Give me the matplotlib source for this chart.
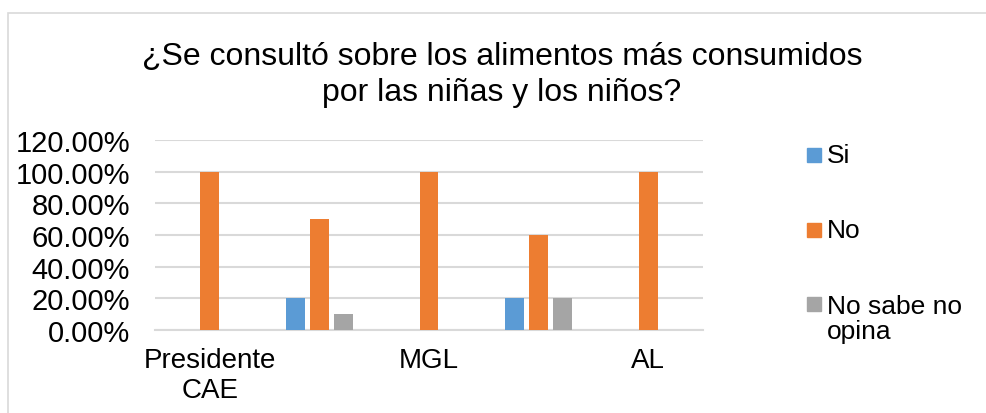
import numpy as np
import matplotlib.pyplot as plt
from matplotlib.patches import Rectangle
from matplotlib.ticker import PercentFormatter

plt.rcParams['font.family'] = ['Liberation Sans', 'DejaVu Sans']

# datos (las etiquetas 2 y 4 no aparecen en el gráfico original)
categorias = ['Presidente\nCAE', '', 'MGL', '', 'AL']
si = [0.0, 0.20, 0.0, 0.20, 0.0]
no = [1.00, 0.70, 1.00, 0.60, 1.00]
no_sabe = [0.0, 0.10, 0.0, 0.20, 0.0]

series = [('Si', si, '#5b9bd5'),
          ('No', no, '#ed7d31'),
          ('No sabe no\nopina', no_sabe, '#a5a5a5')]

fig = plt.figure(figsize=(9.86, 4.14), dpi=100)
ax = fig.add_axes([155 / 986, 0.2005, 548 / 986, 0.4585])

# marco del gráfico
fig.patches.append(Rectangle((8 / 986, -0.1), 1.1, 1 - 14 / 414 + 0.1,
                             transform=fig.transFigure, fill=False,
                             edgecolor='#d9d9d9', linewidth=1.2))

x = np.arange(len(categorias))
ancho = 0.173
paso = 0.219
for i, (nombre, valores, color) in enumerate(series):
    ax.bar(x + (i - 1) * paso, valores, ancho, color=color, label=nombre, zorder=3)

ax.set_xlim(-0.5, len(categorias) - 0.5)
ax.set_ylim(0, 1.2)
ax.set_yticks(np.arange(0, 1.21, 0.2))
ax.yaxis.set_major_formatter(PercentFormatter(1.0, decimals=2))
ax.set_xticks(x)
ax.set_xticklabels(categorias)
ax.tick_params(axis='x', length=0, labelsize=20, pad=12)
ax.tick_params(axis='y', length=0, labelsize=21, pad=18)
ax.grid(axis='y', color='#d9d9d9', linewidth=1.5, zorder=0)
for s in ['top', 'right', 'left']:
    ax.spines[s].set_visible(False)
ax.spines['bottom'].set_color('#d9d9d9')
ax.spines['bottom'].set_linewidth(1.5)

# 'baseline' con varias líneas alinea la última línea
fig.text(0.509, 1 - 101 / 414,
         '¿Se consultó sobre los alimentos más consumidos\npor las niñas y los niños?',
         ha='center', va='baseline', fontsize=23, linespacing=1.27)

# leyenda a la derecha
cuadro_y = [155.5, 230.5, 304.5]
texto_y = [163.5, 238.5, 339]
for (nombre, valores, color), yc, yt in zip(series, cuadro_y, texto_y):
    fig.patches.append(Rectangle((807 / 986, 1 - (yc + 7) / 414), 14 / 986, 14 / 414,
                                 transform=fig.transFigure, color=color))
    fig.text(827 / 986, 1 - yt / 414, nombre, ha='left', va='baseline',
             fontsize=19, linespacing=1.05)

plt.savefig('out.png', dpi=100)
